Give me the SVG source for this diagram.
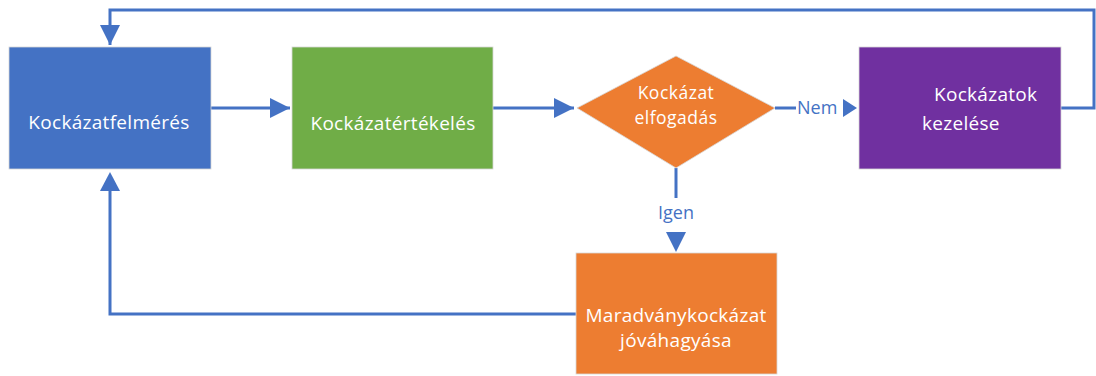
<svg xmlns="http://www.w3.org/2000/svg" width="1096" height="376" viewBox="0 0 1096 376">
  <defs>
    <marker id="head" viewBox="0 0 20 20" refX="20" refY="10" markerWidth="20" markerHeight="20" markerUnits="userSpaceOnUse" orient="auto">
      <path d="M0,0 L20,10 L0,20 z" fill="#4472C4"/>
    </marker>
    <style>
      .box { stroke: #d8d8d8; stroke-width: 0.8; }
      .lbl { font-family: "Open Sans", "Liberation Sans", sans-serif; font-size: 19px; fill: #ffffff; letter-spacing: 0.3px; }
      .lbl-sm { font-size: 17.5px; letter-spacing: 0.5px; }
      .conn { fill: none; stroke: #4472C4; stroke-width: 3; }
      .edge-lbl { font-family: "Open Sans", "Liberation Sans", sans-serif; font-size: 18px; fill: #4472C4; }
    </style>
  </defs>

  <rect width="1096" height="376" fill="#ffffff"/>

  <!-- connectors -->
  <g id="connectors">
    <path class="conn" d="M1061,108 H1094 V10 H110 V45" marker-end="url(#head)"/>
    <path class="conn" d="M211,108 H290" marker-end="url(#head)"/>
    <path class="conn" d="M493,108 H574" marker-end="url(#head)"/>
    <path class="conn" d="M775,108 H796"/>
    <path class="conn" d="M676,168 V198"/>
    <path class="conn" d="M576,314 H110 V191"/>
    <path d="M100,191 L110,172 L120,191 z" fill="#4472C4"/>
    <path d="M843,99 L857,108 L843,117 z" fill="#4472C4"/>
    <path d="M666,232 L676,252 L686,232 z" fill="#4472C4"/>
    <text class="edge-lbl" x="797" y="114">Nem</text>
    <text class="edge-lbl" x="676" y="219" text-anchor="middle">Igen</text>
  </g>

  <!-- risk assessment -->
  <g id="node-felmeres">
    <rect class="box" x="9" y="47" width="202" height="122" fill="#4472C4"/>
    <text class="lbl" x="109" y="129" text-anchor="middle">Kockázatfelmérés</text>
  </g>

  <!-- risk evaluation -->
  <g id="node-ertekeles">
    <rect class="box" x="292" y="47" width="201" height="122" fill="#70AD47"/>
    <text class="lbl" x="393" y="130" text-anchor="middle">Kockázatértékelés</text>
  </g>

  <!-- acceptance decision -->
  <g id="node-elfogadas">
    <path class="box" d="M676,56 L775,108 L676,168 L577,108 z" fill="#ED7D31"/>
    <text class="lbl lbl-sm" x="676" y="99" text-anchor="middle">Kockázat</text>
    <text class="lbl lbl-sm" x="676" y="123.5" text-anchor="middle">elfogadás</text>
  </g>

  <!-- risk treatment -->
  <g id="node-kezeles">
    <rect class="box" x="859" y="47" width="202" height="122" fill="#7030A0"/>
    <text class="lbl" x="934" y="101">Kockázatok</text>
    <text class="lbl" x="922" y="130">kezelése</text>
  </g>

  <!-- residual risk approval -->
  <g id="node-maradvany">
    <rect class="box" x="576" y="253" width="201" height="121" fill="#ED7D31"/>
    <text class="lbl" x="676" y="322" text-anchor="middle">Maradványkockázat</text>
    <text class="lbl" x="676" y="347" text-anchor="middle">jóváhagyása</text>
  </g>
</svg>
